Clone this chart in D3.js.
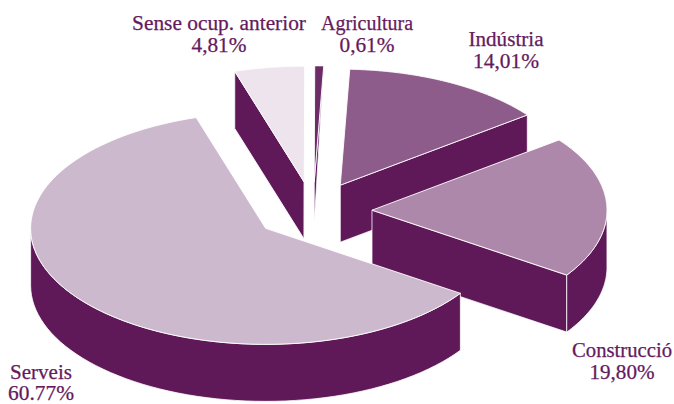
<!DOCTYPE html>
<html><head><meta charset="utf-8">
<script src="https://cdnjs.cloudflare.com/ajax/libs/d3/7.8.5/d3.min.js"></script>
<style>html,body{margin:0;padding:0;background:#fff}svg{display:block}</style>
</head><body><svg id="c" width="674" height="404"></svg>
<script>
const categories = ["Agricultura","Indústria","Construcció","Serveis","Sense ocup. anterior"];
const values = [0.61,14.01,19.80,60.77,4.81];
const valueLabels = ["0,61%","14,01%","19,80%","60.77%","4,81%"];
const topColors = ["#6b2c68","#8e5c8a","#ae88aa","#cdb9cd","#ede4ed"];
const sideColor = "#5f1858", textColor = "#651a5e";
// layout
const W=674,H=404,cx=313,cy=211,rx=235,ry=116,depth=57,explode=59;
const labelPos = [[367,30,92],[506,46,75],[622,357,100],[41,379,62],[219,30,174]];
const valueOffset = [22,22,22,20.5,22];
const valueWidth = [55,66,65,66,55];
const sliverSweep = 0.1, sliverDepth = 0.72;

const svg=d3.select("#c");
const pie=d3.pie().value(d=>d).sort(null).startAngle(0.002).endAngle(2*Math.PI+0.002);
const arcs=pie(values);
const line=d3.line();
const X=(a,r)=>Math.sin(a)*r*rx, Y=(a,r)=>-Math.cos(a)*r*ry;
const order=[4,0,1,2,3];
order.forEach(i=>{
  const s=arcs[i],mid=(s.startAngle+s.endAngle)/2;
  const r=explode/rx;
  const ox=cx+X(mid,r), oy=cy+Y(mid,r);
  const P=(a,q=1,dz=0)=>[ox+X(a,q),oy+Y(a,q)+dz];
  const g=svg.append("g");
  const face=pts=>g.append("path").attr("d",line(pts)+"Z").attr("fill",sideColor).attr("stroke","#fff").attr("stroke-width",0.8).attr("stroke-linejoin","round");
  const a0=s.startAngle,a1=s.endAngle;
  if(a1-a0<sliverSweep){
    // a very thin wedge: its cut face narrows to a point
    face([P(a1),[ox,oy],[ox,oy+depth*sliverDepth]]);
  } else {
    if(-Math.sin(a0)>0) face([[ox,oy],P(a0),P(a0,1,depth),[ox,oy+depth]]);
    if(Math.sin(a1)>0) face([[ox,oy],P(a1),P(a1,1,depth),[ox,oy+depth]]);
  }
  const lo=Math.max(a0,Math.PI/2),hi=Math.min(a1,Math.PI*1.5);
  if(hi>lo){
    const ts=d3.range(0,61).map(k=>lo+(hi-lo)*k/60);
    face(ts.map(t=>P(t)).concat(ts.slice().reverse().map(t=>P(t,1,depth))));
  }
  const ts=d3.range(0,121).map(k=>a0+(a1-a0)*k/120);
  g.append("path").attr("d",line([[ox,oy]].concat(ts.map(t=>P(t))))+"Z")
    .attr("fill",topColors[i]).attr("stroke","#fff").attr("stroke-width",0.9).attr("stroke-linejoin","round");
});
const font="'Liberation Serif',serif";
categories.forEach((c,i)=>{
  const [x,y,w]=labelPos[i];
  const t=(str,yy,len)=>svg.append("text").attr("x",x).attr("y",yy).attr("text-anchor","middle")
    .attr("font-family",font).attr("font-size",20.5).attr("fill",textColor)
    .attr("stroke",textColor).attr("stroke-width",0.25)
    .attr("textLength",len).attr("lengthAdjust","spacingAndGlyphs").text(str);
  t(c,y,w); t(valueLabels[i],y+valueOffset[i],valueWidth[i]);
});
</script></body></html>
